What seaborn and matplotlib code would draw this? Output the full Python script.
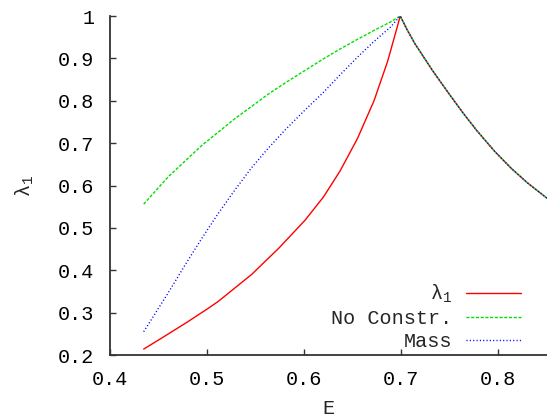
import numpy as np
import pandas as pd
import matplotlib
matplotlib.use("Agg")
import matplotlib.pyplot as plt
from matplotlib.ticker import FuncFormatter
import seaborn as sns

# rising branches
e_lambda = [0.435, 0.450, 0.478, 0.500, 0.512, 0.546, 0.574, 0.601, 0.620, 0.637,
            0.655, 0.672, 0.686, 0.696, 0.699]
v_lambda = [0.214, 0.235, 0.275, 0.308, 0.327, 0.390, 0.452, 0.518, 0.573, 0.634,
            0.711, 0.800, 0.893, 0.975, 1.0]

e_noconstr = [0.435, 0.460, 0.495, 0.529, 0.564, 0.586, 0.602, 0.620, 0.637, 0.655,
              0.672, 0.689, 0.699]
v_noconstr = [0.556, 0.620, 0.695, 0.758, 0.817, 0.850, 0.873, 0.899, 0.922, 0.945,
              0.966, 0.986, 1.0]

e_mass = [0.435, 0.460, 0.478, 0.495, 0.512, 0.529, 0.546, 0.562, 0.580, 0.600,
          0.620, 0.637, 0.655, 0.672, 0.689, 0.699]
v_mass = [0.255, 0.346, 0.414, 0.476, 0.535, 0.590, 0.642, 0.685, 0.730, 0.776,
          0.820, 0.861, 0.903, 0.940, 0.974, 1.0]

# falling branch shared by all three
e_fall = [0.706, 0.714, 0.732, 0.749, 0.764, 0.778, 0.796, 0.813, 0.830, 0.850, 0.856]
v_fall = [0.968, 0.935, 0.872, 0.817, 0.770, 0.729, 0.681, 0.641, 0.606, 0.570, 0.560]

labels = ["λ$_1$", "No Constr.", "Mass"]
colors = ["#ff0000", "#00e000", "#0000ff"]

sns.set_style("ticks")
plt.rcParams["font.family"] = ["Liberation Mono", "DejaVu Sans"]
plt.rcParams["mathtext.fontset"] = "custom"
plt.rcParams["mathtext.rm"] = "Liberation Mono"
plt.rcParams["mathtext.it"] = "Liberation Mono"

rows = []
for lab, ex, vy in [(labels[0], e_lambda, v_lambda),
                    (labels[1], e_noconstr, v_noconstr),
                    (labels[2], e_mass, v_mass)]:
    for x, y in zip(list(ex) + e_fall, list(vy) + v_fall):
        rows.append({"E": x, "lam": y, "curve": lab})
df = pd.DataFrame(rows)

fig = plt.figure(figsize=(5.47, 4.18), dpi=100)
ax = fig.add_axes([0.2005, 0.1507, 0.7995, 0.811])

styles = [dict(ls="-"), dict(dashes=(2.2, 1.2)), dict(dashes=(0.8, 1.6))]
for lab, col, st in zip(labels, colors, styles):
    sub = df[df["curve"] == lab]
    sns.lineplot(data=sub, x="E", y="lam", ax=ax, color=col, lw=1.0,
                 estimator=None, sort=False, label=lab, **st)

ax.set_xlim(0.4, 0.85)
ax.set_ylim(0.2, 1.0)
ax.set_xticks([0.4, 0.5, 0.6, 0.7, 0.8])
ax.set_yticks([0.2, 0.3, 0.4, 0.5, 0.6, 0.7, 0.8, 0.9, 1.0])
fmt = FuncFormatter(lambda v, p: "%g" % round(v, 2))
ax.xaxis.set_major_formatter(fmt)
ax.yaxis.set_major_formatter(fmt)
ax.tick_params(direction="in", length=4, width=1, colors="#333333",
               labelcolor="black", labelsize=14.5)
ax.tick_params(axis="y", pad=11)
ax.tick_params(axis="x", pad=11)

sns.despine(ax=ax)
for s in ["left", "bottom"]:
    ax.spines[s].set_color("#333333")
    ax.spines[s].set_linewidth(1.3)

ax.set_xlabel("E", fontsize=14.5, labelpad=7)
ax.set_ylabel("λ$_1$", fontsize=14.5, labelpad=16)

leg = ax.legend(loc="lower right", bbox_to_anchor=(0.972, -0.03), frameon=False,
                markerfirst=False, fontsize=14.5, handlelength=2.7,
                handletextpad=0.7, labelspacing=0.2, borderpad=0.2)
leg._legend_box._children[-1]._children[0].align = "right"

fig.savefig("out.png", dpi=100)
